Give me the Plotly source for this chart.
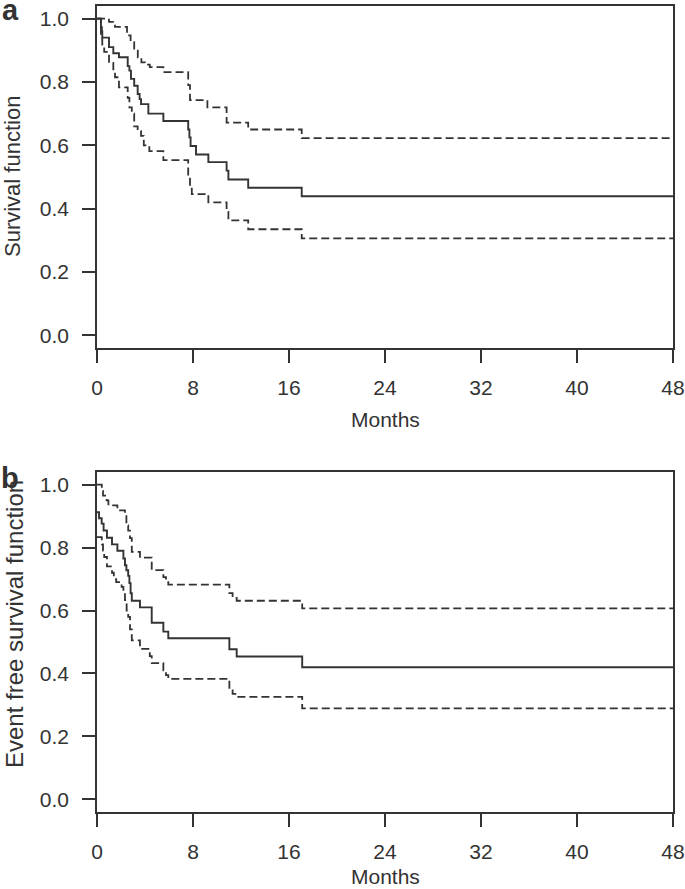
import plotly.graph_objects as go
from plotly.subplots import make_subplots

month_ticks = [0, 8, 16, 24, 32, 40, 48]
surv_ticks = [0.0, 0.2, 0.4, 0.6, 0.8, 1.0]
x_max = 48

# Panel a: survival function (Kaplan-Meier estimate and 95% CI)
os_t = [0, 0.33, 0.4, 0.44, 1.0, 1.36, 1.83, 2.56, 2.7, 2.83, 3.1, 3.39, 3.55, 3.67, 4.28, 5.53,
        7.6, 7.7, 7.8, 8.25, 9.28, 10.8, 10.95, 12.6, 17.06]
os_s = [1.0, 0.973, 0.96, 0.94, 0.91, 0.891, 0.878, 0.85, 0.836, 0.81, 0.788, 0.762, 0.746, 0.73, 0.70, 0.677,
        0.65, 0.625, 0.598, 0.571, 0.547, 0.52, 0.492, 0.466, 0.439]
os_up_t = [0, 1.0, 1.5, 2.5, 2.8, 3.1, 3.4, 3.7, 4.0, 4.4, 5.53, 7.6, 7.75, 9.2, 10.8, 12.6, 17.06]
os_up_s = [1.0, 0.99, 0.974, 0.947, 0.926, 0.899, 0.878, 0.862, 0.855, 0.847, 0.831, 0.79, 0.743, 0.72, 0.672, 0.65, 0.623]
os_lo_t = [0, 0.33, 0.44, 0.6, 1.0, 1.36, 1.5, 1.83, 2.56, 2.7, 2.9, 3.1, 3.39, 3.67, 3.9, 4.36, 5.53,
           7.6, 7.75, 7.9, 9.28, 10.8, 10.95, 12.6, 17.06]
os_lo_s = [1.0, 0.94, 0.91, 0.895, 0.86, 0.835, 0.815, 0.783, 0.75, 0.72, 0.70, 0.66, 0.645, 0.63, 0.60, 0.582, 0.553,
           0.50, 0.471, 0.446, 0.42, 0.39, 0.363, 0.335, 0.306]

# Panel b: event free survival function
efs_t = [0, 0.17, 0.39, 0.55, 0.83, 1.25, 1.7, 2.2, 2.33, 2.45, 2.6, 2.7, 2.8, 2.9, 3.58, 4.56, 5.53, 5.94,
         11.03, 11.64, 17.1]
efs_s = [0.912, 0.893, 0.876, 0.854, 0.831, 0.81, 0.79, 0.765, 0.744, 0.728, 0.71, 0.687, 0.655, 0.631, 0.61,
         0.561, 0.533, 0.512, 0.477, 0.454, 0.42]
efs_up_t = [0, 0.4, 0.5, 0.8, 0.95, 1.7, 2.33, 2.45, 2.6, 2.75, 2.9, 3.58, 4.56, 5.53, 5.75, 5.94,
            11.03, 11.3, 11.64, 17.1]
efs_up_s = [1.0, 0.98, 0.965, 0.95, 0.934, 0.918, 0.9, 0.87, 0.854, 0.83, 0.786, 0.768, 0.728, 0.706, 0.69, 0.682,
            0.655, 0.64, 0.631, 0.607]
efs_lo_t = [0, 0.4, 0.5, 0.6, 0.83, 1.25, 1.4, 1.6, 2.05, 2.2, 2.33, 2.47, 2.6, 2.75, 2.9, 3.58, 4.4, 4.56,
            5.53, 5.75, 5.94, 11.03, 11.3, 11.64, 17.1]
efs_lo_s = [0.833, 0.81, 0.79, 0.77, 0.74, 0.72, 0.70, 0.69, 0.675, 0.655, 0.633, 0.60, 0.58, 0.54, 0.505, 0.478,
            0.455, 0.433, 0.41, 0.395, 0.383, 0.35, 0.335, 0.326, 0.289]

INK = "#333333"
FONT = "Liberation Sans, Arial, sans-serif"

W, H = 685, 889
ML, MR, MT, MB = 97, 12, 6, 77
PH = H - MT - MB

fig = make_subplots(rows=2, cols=1, vertical_spacing=0.0)


def steps(t, s):
    return list(t) + [x_max], list(s) + [s[-1]]


panels = [
    (1, (os_t, os_s), (os_up_t, os_up_s), (os_lo_t, os_lo_s)),
    (2, (efs_t, efs_s), (efs_up_t, efs_up_s), (efs_lo_t, efs_lo_s)),
]
for row, est, up, lo in panels:
    for (t, s), dash, w in [(up, "8px,4px", 1.8), (lo, "8px,4px", 1.8), (est, "solid", 1.9)]:
        x, y = steps(t, s)
        fig.add_trace(go.Scatter(x=x, y=y, mode="lines", line=dict(shape="hv", color=INK, width=w, dash=dash),
                                 showlegend=False, hoverinfo="skip"), row=row, col=1)

# domains in pixels
a_top, a_bot = 6, 348
b_top, b_bot = 472, 812


def dom(top, bot):
    return [(H - MB - bot) / PH, (H - MB - top) / PH]


axis_common = dict(showline=True, linecolor=INK, linewidth=1.5, mirror=True, ticks="outside",
                   ticklen=13, tickwidth=1.5, tickcolor=INK, showgrid=False, zeroline=False,
                   automargin=False, tickfont=dict(family=FONT, size=21, color=INK))
fig.update_xaxes(range=[0, x_max], tickvals=month_ticks, ticktext=[str(v) for v in month_ticks],
                 ticklabelstandoff=7, **axis_common)
fig.update_yaxes(range=[-0.04, 1.04], tickvals=surv_ticks, ticktext=[f"{v:.1f}" for v in surv_ticks],
                 ticklabelstandoff=9, **axis_common)
fig.update_layout(yaxis=dict(domain=dom(a_top, a_bot)), yaxis2=dict(domain=dom(b_top, b_bot)))


def px2paper(px, py):
    return (px - ML) / (W - ML - MR), (H - MB - py) / PH


annots = [
    ("<b>a</b>", 10, 10, 0, 29),
    ("<b>b</b>", 10, 478, 0, 29),
    ("Months", 385, 419, 0, 21),
    ("Months", 385, 877, 0, 21),
    ("Survival function", 13, 177, -90, 22),
    ("Event free survival function", 14, 624, -90, 24),
]
for text, px, py, ang, size in annots:
    x, y = px2paper(px, py)
    fig.add_annotation(text=text, x=x, y=y, xref="paper", yref="paper", showarrow=False,
                       xanchor="center", yanchor="middle", textangle=ang,
                       font=dict(family=FONT, size=size, color=INK))

fig.update_layout(width=W, height=H, margin=dict(l=ML, r=MR, t=MT, b=MB),
                  paper_bgcolor="white", plot_bgcolor="white")

fig.write_html("out.html", config={"displayModeBar": False},
               post_script="document.body.style.margin='0px';document.body.style.padding='0px';")
